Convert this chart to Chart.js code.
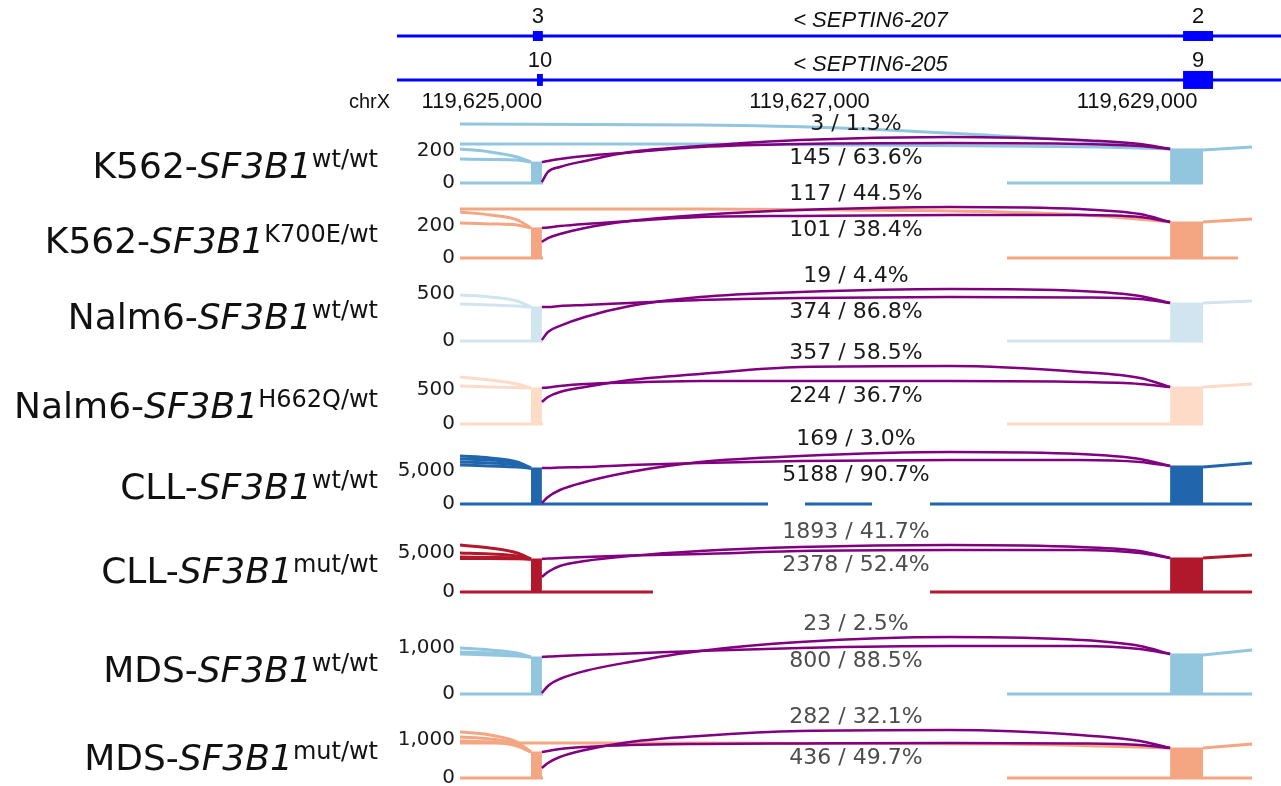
<!DOCTYPE html>
<html>
<head>
<meta charset="utf-8">
<script src="https://cdn.jsdelivr.net/npm/chart.js@4.4.1/dist/chart.umd.min.js"></script>
<style>
  html, body { margin: 0; padding: 0; background: #fff; }
</style>
</head>
<body>
<canvas id="chart0" width="1281" height="786"></canvas>
<script>
// genomic axis (chrX)
const xTicks = [119625000, 119627000, 119629000];

// transcript track
const transcripts = ["SEPTIN6-207", "SEPTIN6-205"];
const transcriptRows = [2, 1];
const transcriptSpan = [119624481, 119630000];
const exons207 = [[119625311, 119625372], [119629281, 119629464]];
const exons205 = [[119625336, 119625372], [119629281, 119629464]];
const exonNames207 = ["3", "2"];
const exonNames205 = ["10", "9"];

// samples
const cellLines = ["K562-", "K562-", "Nalm6-", "Nalm6-", "CLL-", "CLL-", "MDS-", "MDS-"];
const geneName = "SF3B1";
const genotypes = ["wt/wt", "K700E/wt", "wt/wt", "H662Q/wt", "wt/wt", "mut/wt", "wt/wt", "mut/wt"];
const yTopTicks = [200, 200, 500, 500, 5000, 5000, 1000, 1000];

// junction labels (upper arc / lower arc)
const juncHiLabels = ["3 / 1.3%", "117 / 44.5%", "19 / 4.4%", "357 / 58.5%", "169 / 3.0%", "1893 / 41.7%", "23 / 2.5%", "282 / 32.1%"];
const juncLoLabels = ["145 / 63.6%", "101 / 38.4%", "374 / 86.8%", "224 / 36.7%", "5188 / 90.7%", "2378 / 52.4%", "800 / 88.5%", "436 / 49.7%"];

// junction arcs, sampled along arcX (reads)
const arcX = [119625366, 119625403, 119625476, 119625629, 119625904, 119626331, 119626942, 119627858, 119628652, 119629018, 119629202];
const arcHiReads = [
  [6, 69, 100, 138, 194, 231, 269, 288, 269, 244, 213],
  [100, 125, 150, 188, 231, 269, 300, 319, 306, 275, 225],
  [11, 96, 160, 255, 372, 468, 521, 553, 532, 479, 404],
  [324, 397, 471, 544, 647, 735, 838, 853, 765, 676, 544],
  [152, 1061, 2121, 3333, 4848, 6364, 7273, 7879, 7576, 6818, 5758],
  [1923, 2564, 3333, 3974, 4615, 5256, 5769, 6026, 5769, 5256, 4359],
  [22, 174, 326, 500, 696, 935, 1130, 1239, 1174, 1043, 870],
  [263, 395, 553, 737, 947, 1105, 1237, 1263, 1132, 974, 789]
];
const arcLoReads = [
  [131, 138, 150, 169, 191, 225, 244, 250, 244, 231, 213],
  [188, 191, 200, 213, 231, 256, 263, 269, 269, 256, 225],
  [362, 362, 372, 383, 404, 436, 457, 468, 463, 447, 404],
  [529, 537, 559, 588, 610, 632, 632, 632, 618, 588, 544],
  [5455, 5455, 5530, 5606, 5909, 6212, 6515, 6667, 6667, 6364, 5758],
  [4231, 4295, 4359, 4487, 4679, 4872, 5256, 5385, 5385, 5000, 4359],
  [804, 815, 826, 848, 880, 935, 1000, 1043, 1043, 978, 870],
  [684, 711, 763, 816, 868, 895, 908, 921, 908, 868, 789]
];

// coverage
const exonLeftX = [119625299, 119625366];
const exonRightX = [119629202, 119629403];
const leftExonReads = [131, 188, 362, 529, 5455, 4231, 804, 684];
const rightExonReads = [213, 225, 404, 544, 5758, 4359, 870, 789];
const tailX = [119629403, 119629702];
const tailReads = [[206, 225], [225, 244], [404, 426], [544, 588], [5606, 6212], [4359, 4744], [848, 957], [789, 895]];

const covLeftX = [119624866, 119625049, 119625214, 119625299];
const leftCovReads = [
  [[213, 194, 163, 131], [150, 147, 144, 131]],
  [[288, 269, 238, 188], [219, 213, 206, 188]],
  [[489, 468, 426, 362], [394, 383, 372, 362]],
  [[691, 647, 588, 529], [559, 544, 537, 529]],
  [[7273, 6970, 6364, 5455], [6818, 6667, 6212, 5455], [6364, 6212, 5909, 5455], [5909, 5758, 5606, 5455]],
  [[6026, 5641, 5000, 4231], [5000, 4872, 4615, 4231], [4487, 4423, 4359, 4231], [4295, 4295, 4260, 4231]],
  [[1000, 957, 891, 804], [913, 891, 848, 804], [870, 848, 826, 804]],
  [[1211, 1132, 947, 684], [1079, 1026, 895, 684], [974, 947, 842, 684]]
];
const covLongX = [119624866, 119626331, 119627186, 119628163, 119628774, 119629202];
const longCovReads = [
  [[369, 363, 344, 294, 256, 213], [244, 244, 238, 231, 225, 213]],
  [[306, 306, 300, 288, 263, 225]],
  [], [], [], [], [],
  [[921, 921, 908, 895, 842, 789]]
];
const zeroRuns = [
  [[119624866, 119625373], [119628206, 119629403]],
  [[119624866, 119625373], [119628206, 119629617]],
  [[119624866, 119625373], [119628206, 119629403]],
  [[119624866, 119625373], [119628206, 119629403]],
  [[119624866, 119626747], [119626973, 119627382], [119627736, 119629702]],
  [[119624866, 119626044], [119627736, 119629702]],
  [[119624866, 119625373], [119628206, 119629702]],
  [[119624866, 119625373], [119628206, 119629702]]
];

const panelColors = ["#92c5de", "#f4a582", "#d1e5f0", "#fddbc7", "#2166ac", "#b2182b", "#92c5de", "#f4a582"];
const juncColors = ["#1a1a1a", "#1a1a1a", "#1a1a1a", "#1a1a1a", "#1a1a1a", "#4d4d4d", "#4d4d4d", "#4d4d4d"];
const arcColor = "#800080";
const geneColor = "#0000ff";

// layout of the stacked y axes
const rowWeights = [112, 79, 75, 83, 83, 80, 88, 102, 84];
const yMins = [-50, -50, -85, -118, -1212, -1026, -174, -211];
const yMaxs = [444, 419, 798, 1103, 10909, 10256, 2043, 2000];
const xAxisRow = 0.86;

const toPts = (xs, ys) => xs.map((x, i) => ({x: x, y: ys[i]}));
let datasets = [];

function addLine(data, yAxisID, color, width, extra) {
  datasets.push(Object.assign({
    type: "line",
    data: data,
    xAxisID: "x",
    yAxisID: yAxisID,
    borderColor: color,
    backgroundColor: color,
    borderWidth: width,
    pointRadius: 0,
    fill: false,
    order: 1
  }, extra || {}));
}

// transcripts
transcriptRows.forEach(function(row, t) {
  addLine(toPts(transcriptSpan, [row, row]), "yGene", geneColor, 3, {clip: false, order: 2});
  let exons = t === 0 ? exons207 : exons205;
  let thick = t === 0 ? [10, 10] : [12, 18];
  exons.forEach(function(e, i) {
    addLine(toPts(e, [row, row]), "yGene", geneColor, thick[i], {clip: false, order: 2});
  });
});

// sample panels
for (let p = 0; p < 8; p++) {
  let id = "p" + p;
  let col = panelColors[p];

  let base = [];
  zeroRuns[p].forEach(function(r) {
    base.push({x: r[0], y: 0}, {x: r[1], y: 0}, {x: r[1], y: null});
  });
  addLine(base, id, col, 3);

  addLine(toPts(exonLeftX, [leftExonReads[p], leftExonReads[p]]), id, col, 1, {fill: "origin"});
  addLine(toPts(exonRightX, [rightExonReads[p], rightExonReads[p]]), id, col, 1, {fill: "origin"});
  addLine(toPts(tailX, tailReads[p]), id, col, 3);

  leftCovReads[p].forEach(function(vals) {
    addLine(toPts(covLeftX, vals), id, col, 3, {cubicInterpolationMode: "monotone"});
  });
  longCovReads[p].forEach(function(vals) {
    addLine(toPts(covLongX, vals), id, col, 3, {cubicInterpolationMode: "monotone"});
  });

  addLine(toPts(arcX, arcHiReads[p]), id, arcColor, 2.5, {cubicInterpolationMode: "monotone", order: 0});
  addLine(toPts(arcX, arcLoReads[p]), id, arcColor, 2.5, {cubicInterpolationMode: "monotone", order: 0});
}

// scales
let scales = {
  x: {
    type: "linear",
    axis: "x",
    min: 119624866,
    max: 119629879,
    position: {yGene: xAxisRow},
    grid: {display: false, drawTicks: false},
    border: {display: false},
    ticks: {
      font: {family: "Liberation Sans", size: 22},
      color: "#111",
      padding: 3,
      maxRotation: 0,
      autoSkip: false,
      callback: v => v.toLocaleString("en-US")
    },
    afterBuildTicks: s => { s.ticks = xTicks.map(v => ({value: v})); },
    afterFit: s => { s.paddingLeft = 0; s.paddingRight = 0; }
  },
  yGene: {
    type: "linear",
    axis: "y",
    position: "left",
    stack: "rows",
    stackWeight: rowWeights[0],
    weight: 9,
    min: 0.27,
    max: 2.82,
    grid: {display: false, drawTicks: false},
    border: {display: false},
    ticks: {display: false},
    afterFit: s => { s.width = 460; s.paddingTop = 0; s.paddingBottom = 0; }
  }
};
for (let p = 0; p < 8; p++) {
  scales["p" + p] = {
    type: "linear",
    axis: "y",
    position: "left",
    stack: "rows",
    stackWeight: rowWeights[p + 1],
    weight: 8 - p,
    min: yMins[p],
    max: yMaxs[p],
    grid: {display: false, drawTicks: false},
    border: {display: false},
    ticks: {
      font: {family: "DejaVu Sans", size: 20},
      color: "#1a1a1a",
      padding: 5,
      autoSkip: false,
      callback: v => v.toLocaleString("en-US")
    },
    afterBuildTicks: s => { s.ticks = [{value: 0}, {value: yTopTicks[p]}]; },
    afterFit: s => { s.width = 460; s.paddingTop = 0; s.paddingBottom = 0; }
  };
}

// texts: transcript names, exon numbers, sample names, junction counts
const textPlugin = {
  id: "sashimiText",
  afterDraw(chart) {
    const ctx = chart.ctx;
    const xs = chart.scales.x;
    const yg = chart.scales.yGene;
    const area = chart.chartArea;
    ctx.save();
    ctx.fillStyle = "#111";
    ctx.textBaseline = "middle";
    ctx.textAlign = "center";

    transcriptRows.forEach(function(row, t) {
      let py = yg.getPixelForValue(row);
      ctx.font = "italic 22px 'Liberation Sans'";
      ctx.fillText("< " + transcripts[t], (area.left + area.right) / 2, py - 15);
      let exons = t === 0 ? exons207 : exons205;
      let names = t === 0 ? exonNames207 : exonNames205;
      ctx.font = "22px 'Liberation Sans'";
      exons.forEach(function(e, i) {
        ctx.fillText(names[i], xs.getPixelForValue((e[0] + e[1]) / 2), py - 19);
      });
    });

    ctx.textAlign = "right";
    ctx.font = "20px 'Liberation Sans'";
    ctx.fillText("chrX", xs.left - 70, yg.getPixelForValue(xAxisRow) + 16);

    for (let p = 0; p < 8; p++) {
      let ys = chart.scales["p" + p];
      let mid = (ys.getPixelForValue(0) + ys.getPixelForValue(yTopTicks[p])) / 2;
      let baseY = mid + 11;
      let fMain = "36px 'DejaVu Sans'";
      let fItal = "italic 36px 'DejaVu Sans'";
      let fSup = "24px 'DejaVu Sans'";
      ctx.font = fMain; let w1 = ctx.measureText(cellLines[p]).width;
      ctx.font = fItal; let w2 = ctx.measureText(geneName).width;
      ctx.font = fSup; let w3 = ctx.measureText(genotypes[p]).width;
      let x0 = xs.left - 82 - (w1 + w2 + w3);
      ctx.textAlign = "left";
      ctx.textBaseline = "alphabetic";
      ctx.fillStyle = "#111";
      ctx.font = fMain; ctx.fillText(cellLines[p], x0, baseY);
      ctx.font = fItal; ctx.fillText(geneName, x0 + w1, baseY);
      ctx.font = fSup; ctx.fillText(genotypes[p], x0 + w1 + w2, baseY - 11);

      // junction counts
      let cx = (xs.getPixelForValue(arcX[0]) + xs.getPixelForValue(arcX[arcX.length - 1])) / 2;
      let hiTop = Math.min.apply(null, arcHiReads[p].map(v => ys.getPixelForValue(v)));
      let loTop = Math.min.apply(null, arcLoReads[p].map(v => ys.getPixelForValue(v)));
      ctx.textAlign = "center";
      ctx.textBaseline = "middle";
      ctx.fillStyle = juncColors[p];
      ctx.font = "22px 'DejaVu Sans'";
      ctx.fillText(juncHiLabels[p], cx, hiTop - 13);
      ctx.fillText(juncLoLabels[p], cx, loTop + 15);
    }
    ctx.restore();
  }
};

let ctx0 = document.getElementById("chart0").getContext("2d");
let chart = new Chart(ctx0, {
  type: "line",
  data: {datasets: datasets},
  options: {
    responsive: false,
    animation: false,
    events: [],
    layout: {padding: 0},
    plugins: {legend: {display: false}, tooltip: {enabled: false}},
    scales: scales
  },
  plugins: [textPlugin]
});
</script>
</body>
</html>
